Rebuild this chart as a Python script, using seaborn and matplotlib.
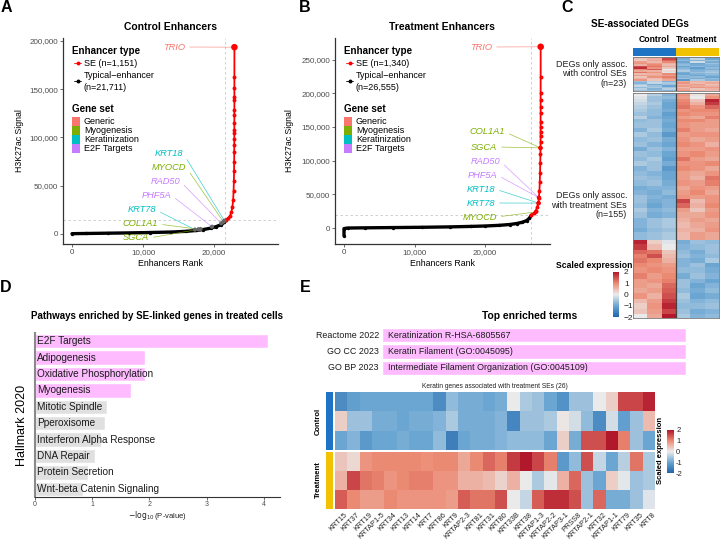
import numpy as np
import pandas as pd
import matplotlib
matplotlib.use("Agg")
import matplotlib.pyplot as plt
import seaborn as sns
from matplotlib.colors import LinearSegmentedColormap, Normalize
from matplotlib.patches import Rectangle
from matplotlib.lines import Line2D
from matplotlib.cm import ScalarMappable
from matplotlib.ticker import FuncFormatter

# ======================= DATA =======================
# Panel A : control enhancers (rank vs H3K27ac signal)
ctrl_typ_rank = [0, 2000, 5000, 8000, 11000, 14000, 16000, 17500, 18500, 19500, 20300, 21000, 21400, 21711]
ctrl_typ_signal = [300, 500, 800, 1100, 1500, 2000, 2700, 3600, 4600, 6000, 7600, 9600, 12000, 14500]
ctrl_se_rank = [21712, 22000, 22250, 22450, 22580, 22680, 22750, 22790, 22815, 22830, 22840, 22845,
                22850, 22853, 22854, 22855, 22856, 22857, 22858, 22859, 22860, 22861, 22862]
ctrl_se_signal = [14600, 16500, 19000, 23000, 28000, 35000, 45000, 55000, 65000, 75000, 85000, 92000,
                  98000, 105000, 108000, 115000, 123000, 128000, 139000, 142000, 151000, 163000, 193500]
ctrl_n_se, ctrl_n_typ = "1,151", "21,711"
ctrl_gene = ["TRIO", "KRT18", "MYOCD", "RAD50", "PHF5A", "KRT78", "COL1A1", "SGCA"]
ctrl_gene_set = ["Generic", "Keratinization", "Myogenesis", "E2F Targets", "E2F Targets",
                 "Keratinization", "Myogenesis", "Myogenesis"]
ctrl_gene_rank = [22862, 21450, 21300, 21000, 19700, 17300, 17800, 18100]
ctrl_gene_signal = [193500, 13800, 12600, 11000, 7500, 4500, 4900, 5100]
ctrl_gene_is_se = [True, False, False, False, False, False, False, False]

# Panel B : treatment enhancers
trt_typ_rank = [0, 1, 500, 3000, 7000, 11000, 15000, 18000, 20000, 22000, 23500, 24500, 25300, 25900, 26300, 26555]
trt_typ_signal = [-11500, -800, 0, 300, 700, 1100, 1700, 2400, 3000, 4000, 5200, 6700, 8600, 11000, 14500, 19000]
trt_se_rank = [26556, 26900, 27200, 27400, 27550, 27650, 27720, 27770, 27810, 27840, 27860, 27870,
               27878, 27882, 27885, 27887, 27889, 27890, 27891, 27892, 27893, 27894, 27895]
trt_se_signal = [19500, 22000, 26000, 31000, 37000, 45000, 55000, 68000, 82000, 97000, 110000, 119000,
                 128000, 136000, 143000, 150000, 157000, 171000, 180000, 190000, 200000, 224000, 269000]
trt_n_se, trt_n_typ = "1,340", "26,555"
trt_gene = ["TRIO", "COL1A1", "SGCA", "RAD50", "PHF5A", "KRT18", "KRT78", "MYOCD"]
trt_gene_set = ["Generic", "Myogenesis", "Myogenesis", "E2F Targets", "E2F Targets",
                "Keratinization", "Keratinization", "Myogenesis"]
trt_gene_rank = [27895, 27870, 27870, 27650, 27650, 27600, 27600, 27250]
trt_gene_signal = [269000, 119000, 119000, 45000, 45000, 37000, 37000, 24000]
trt_gene_is_se = [True] * 8

gene_sets = ["Generic", "Myogenesis", "Keratinization", "E2F Targets"]

# Panel C : SE-associated DEGs (scaled expression; 3 control + 3 treatment)
c_samples = ["Control", "Control", "Control", "Treatment", "Treatment", "Treatment"]
c_block1 = [
    [0.6, 0.5, 1.4, -0.8, -0.6, -0.8], [0.4, 0.6, 1.6, -0.9, -0.3, -1.0], [0.3, 0.7, 1.3, -0.7, -0.8, -0.6],
    [0.8, 0.5, 1.0, -1.0, -0.2, -0.9], [0.9, 0.8, 0.6, -0.8, -1.0, -0.6], [0.6, 1.0, 0.5, -0.7, -0.9, -0.8],
    [1.5, 1.2, 0.7, -1.0, -0.7, -0.9], [1.8, 0.9, 0.4, -0.8, -1.1, -0.7], [1.0, 1.4, 0.0, -0.6, -0.9, -0.9],
    [0.7, 0.6, 0.2, -0.5, -0.8, -0.6], [1.2, 0.9, -0.1, -0.9, -0.6, -0.5], [0.5, 0.6, 1.0, -1.0, -0.8, -0.7],
    [0.8, 0.7, 0.8, -0.7, -1.0, -0.8], [0.4, 0.9, 1.1, -0.8, -0.7, -1.0], [0.6, 0.5, 0.9, -0.6, -0.9, -0.7],
    [0.9, 0.4, 0.7, -1.2, -0.5, -0.8], [-0.6, -0.4, -0.8, 0.7, 0.6, 0.5], [-0.8, -0.3, -0.5, 0.9, 0.5, 0.7],
    [-0.5, -0.9, -0.6, 0.6, 0.8, 0.4], [-0.3, -0.6, -1.0, 0.8, 0.7, 0.6], [-0.7, -0.5, -0.6, 0.5, 0.9, 0.8],
    [-0.4, -0.8, -0.4, 0.7, 0.4, 0.6], [-0.6, -0.7, -0.8, 0.9, 0.6, 0.5],
]
c_block2_counts = [2, 2, 2, 2, 3, 2, 3, 2, 2, 4,
                   3, 3, 4, 3, 3, 4, 3, 3, 4, 3,
                   3, 4, 3, 3, 3, 3, 3, 3, 4, 3,
                   4, 3, 5,
                   3, 4, 3, 3, 3, 3, 4, 4, 3, 3, 4, 4, 3, 4, 3, 3]
c_block2_rows = [
    [0.0, -0.4, -0.8, 0.9, 0.1, 0.7], [-0.1, -0.6, -0.7, 0.8, 0.0, 0.9], [-0.2, -0.6, -0.9, 1.0, 0.4, 1.9],
    [-0.3, -0.5, -1.0, 1.1, 0.6, 1.7], [-0.4, -0.6, -1.0, 1.2, 0.9, 1.3], [-0.5, -0.7, -0.9, 0.9, 1.0, 1.0],
    [-0.6, -0.7, -1.1, 1.0, 0.9, 0.9], [-0.4, -0.8, -1.0, 0.8, 0.7, 1.1], [-0.7, -0.6, -0.9, 1.0, 1.0, 0.8],
    [-0.6, -0.6, -1.0, 0.9, 0.8, 0.8],
    [-0.8, -0.5, -0.9, 1.1, 0.8, 0.7], [-0.5, -0.7, -1.2, 0.8, 0.9, 0.9], [-0.7, -0.6, -0.9, 0.9, 0.7, 0.8],
    [-0.6, -0.8, -1.0, 1.0, 0.9, 0.6], [-0.9, -0.6, -0.8, 0.8, 0.8, 0.9], [-0.6, -0.7, -1.0, 0.9, 1.0, 0.8],
    [-0.7, -0.5, -1.1, 1.2, 0.8, 0.7], [-0.5, -0.6, -0.9, 0.9, 0.9, 1.0], [-0.8, -0.6, -1.2, 1.0, 0.9, 0.7],
    [-0.7, -0.8, -1.0, 0.8, 0.7, 0.9],
    [-0.6, -0.7, -1.0, 0.8, 0.6, 1.2], [-0.7, -0.6, -0.9, 0.9, 0.8, 1.1], [-0.9, -0.8, -0.8, 0.7, 0.9, 0.8],
    [-0.8, -0.9, -0.7, 0.8, 1.0, 0.7], [-0.6, -0.8, -0.9, 0.9, 0.8, 0.9], [-0.6, -0.9, -0.8, 1.6, 0.5, 0.9],
    [-0.7, -1.0, -0.8, 1.3, 0.6, 1.0], [-0.5, -0.8, -0.7, 0.8, 0.4, 0.8], [-0.6, -0.9, -0.8, 0.7, 0.7, 0.9],
    [-0.8, -0.6, -0.5, 0.6, 0.8, 0.7],
    [-0.8, -0.6, -0.5, 0.5, 0.7, 0.8], [-0.9, -0.7, -0.6, 0.6, 0.6, 0.9], [-0.7, -0.6, -0.5, 0.5, 0.8, 0.7],
    [1.9, 0.3, -0.1, -0.9, -0.6, -0.7], [1.7, 0.5, 0.0, -0.8, -0.7, -0.6], [1.3, 1.2, 0.4, -0.7, -0.9, -0.6],
    [1.1, 1.5, 0.5, -0.6, -0.8, -0.7], [1.2, 1.0, 0.6, -0.8, -0.9, -0.5], [1.0, 0.9, 0.8, -0.8, -0.6, -1.0],
    [0.9, 1.0, 0.9, -0.7, -0.7, -0.9], [1.1, 0.8, 1.0, -0.9, -0.6, -0.8], [0.8, 0.9, 1.1, -0.6, -0.8, -1.0],
    [0.8, 0.7, 1.3, -0.6, -1.0, -0.8], [0.7, 0.8, 1.4, -0.7, -0.9, -0.7], [0.9, 0.6, 1.5, -0.5, -1.0, -0.9],
    [0.5, 0.8, 1.7, -0.6, -0.8, -0.7], [0.3, 0.9, 1.9, -0.7, -0.7, -0.6], [0.4, 0.8, 1.6, -0.6, -0.9, -0.8],
    [0.0, 0.7, 2.0, -0.5, -0.8, -0.7],
]

# Panel D : Hallmark 2020 enrichment
d_terms = ["E2F Targets", "Adipogenesis", "Oxidative Phosphorylation", "Myogenesis", "Mitotic Spindle",
           "Pperoxisome", "Interferon Alpha Response", "DNA Repair", "Protein Secretion",
           "Wnt-beta Catenin Signaling"]
d_logp = [4.07, 1.92, 1.92, 1.68, 1.26, 1.23, 1.15, 1.05, 0.93, 0.83]
d_significant = [True, True, True, True, False, False, False, False, False, False]

# Panel E : top enriched terms + keratin genes heatmap
e_db = ["Reactome 2022", "GO CC 2023", "GO BP 2023"]
e_term = ["Keratinization R-HSA-6805567", "Keratin Filament (GO:0045095)",
          "Intermediate Filament Organization (GO:0045109)"]
e_term_bar = [1, 1, 1]
e_genes = ["KRT15", "KRT37", "KRT19", "KRTAP1-5", "KRT34", "KRT13", "KRT14", "KRT7", "KRT86", "KRT9",
           "KRTAP2-3", "KRT81", "KRT31", "KRT80", "KRT33B", "KRT38", "KRTAP1-3", "KRTAP2-2", "KRTAP3-1",
           "PRSS8", "KRTAP2-1", "KRT32", "KRTAP1-1", "KRT79", "KRT35", "KRT8"]
e_control = [
    [-1.4, -1.1, -1.0, -1.0, -1.0, -1.0, -1.0, -1.0, -1.4, -0.7, -0.9, -0.9, -1.0, -0.9, 0.0, -0.5, -0.6,
     -1.0, -1.3, -0.6, -0.6, 0.0, 0.3, 1.6, 1.6, 1.9],
    [0.3, -0.6, -0.6, -0.9, -0.9, -1.0, -0.9, -0.9, -0.8, -0.5, -0.9, -0.9, -0.9, -0.8, -1.5, -0.6, -0.6,
     -0.5, 0.05, -0.2, -0.7, -1.4, -0.2, -1.1, -0.6, 0.5],
    [-1.0, -0.8, -1.2, -1.0, -1.0, -0.9, -1.0, -1.0, -0.7, -1.6, -1.0, -0.9, -0.9, -0.8, -0.7, -0.7, -0.7,
     -1.0, 0.3, -0.9, 1.5, 1.5, 2.0, 1.1, -0.6, -1.0],
]
e_treatment = [
    [0.4, 0.2, 0.9, 1.0, 1.0, 1.0, 1.0, 0.95, 1.0, 1.0, 0.7, 1.0, 1.3, 1.1, 1.7, 2.0, 1.6, 1.1, -1.2, -0.7,
     1.5, -0.3, -1.0, -0.4, 1.2, -0.5],
    [0.6, 1.6, 1.2, 1.1, 0.9, 1.0, 1.1, 1.1, 0.9, 0.9, 0.6, 0.6, 0.5, 0.25, 0.6, 0.0, -0.5, -0.05, 0.6, 1.3,
     -0.6, -1.0, 0.3, -0.05, -0.6, -0.5],
    [1.4, 1.0, 0.8, 0.8, 1.0, 0.9, 0.9, 0.9, 0.9, 0.8, 1.4, 1.2, 1.2, 1.5, 0.0, -0.3, 1.4, 1.8, 1.8, 1.5,
     -0.6, 1.3, -0.9, -0.9, -0.6, -0.1],
]

# ======================= STYLE / LAYOUT =======================
sns.set_theme(style="ticks")
plt.rcParams['font.family'] = ['Liberation Sans', 'DejaVu Sans']
plt.rcParams['axes.unicode_minus'] = False

W, H = 720, 540
fig = plt.figure(figsize=(W / 100, H / 100), dpi=100)
fig.patch.set_facecolor('white')

GENE_COL = {"Generic": "#F8766D", "Myogenesis": "#7CAE00", "Keratinization": "#00BFC4", "E2F Targets": "#C77CFF"}
BLUE_ANN, GOLD_ANN = "#1D74C4", "#F2C200"
PINK, GREY_BAR = "#FFBBFF", "#E0E0E0"
TICK_COL = "#4D4D4D"
cmap = LinearSegmentedColormap.from_list("rb", ["#2166AC", "#6AA6D3", "#EBEBEB", "#EC8B73", "#B2182B"])


def add_ax(x0, y0, x1, y1):
    return fig.add_axes([x0 / W, 1 - y1 / H, (x1 - x0) / W, (y1 - y0) / H])


def ftext(x, y, s, **kw):
    kw.setdefault('va', 'center')
    kw.setdefault('ha', 'left')
    kw.setdefault('color', 'black')
    return fig.text(x / W, 1 - y / H, s, **kw)


def fline(x0, x1, y, **kw):
    fig.add_artist(Line2D([x0 / W, x1 / W], [1 - y / H, 1 - y / H], transform=fig.transFigure, **kw))


def fdot(x, y, **kw):
    fig.add_artist(Line2D([x / W], [1 - y / H], transform=fig.transFigure, marker='o', ls='none', **kw))


def frect(x0, y0, x1, y1, **kw):
    fig.add_artist(Rectangle((x0 / W, 1 - y1 / H), (x1 - x0) / W, (y1 - y0) / H,
                             transform=fig.transFigure, **kw))


comma_fmt = FuncFormatter(lambda v, p: f"{int(round(v)):,}")


def rank_panel(box, title, title_x, ylab_x, typ_r, typ_s, se_r, se_s, genes, gsets, grank, gsig, gse,
               lab_px, xlim, ylim, yticks, thr_y, thr_x, n_se, n_typ, leg_x):
    ax = add_ax(*box)
    ax.axhline(thr_y, color='#C8C8C8', lw=0.6, ls=(0, (3, 3)), zorder=0)
    ax.axvline(thr_x, color='#C8C8C8', lw=0.6, ls=(0, (3, 3)), zorder=0)
    sns.lineplot(x=typ_r, y=typ_s, color='black', lw=2.4, estimator=None, sort=False, ax=ax)
    sns.scatterplot(x=typ_r, y=typ_s, color='black', s=6, linewidth=0, ax=ax)
    sns.lineplot(x=se_r, y=se_s, color='red', lw=1.3, estimator=None, sort=False, ax=ax)
    sns.scatterplot(x=se_r, y=se_s, color='red', s=8, linewidth=0, ax=ax, zorder=4)
    pt_col = ['red' if s else '#666666' for s in gse]
    pt_size = [22 if g == "TRIO" else 9 for g in genes]
    sns.scatterplot(x=grank, y=gsig, hue=list(range(len(genes))), palette=pt_col, size=pt_size,
                    sizes=(9, 22), legend=False, linewidth=0, ax=ax, zorder=5)
    for g, gs, r, s, (px, py) in zip(genes, gsets, grank, gsig, lab_px):
        c = GENE_COL[gs]
        ax.annotate(g, xy=(r, s), xytext=(px, H - py), textcoords='figure pixels', ha='right', va='center',
                    fontsize=6.7, style='italic', color=c, annotation_clip=False,
                    arrowprops=dict(arrowstyle='-', color=c, lw=0.5, alpha=0.75, shrinkA=1, shrinkB=1,
                                    relpos=(1, 0.5)))
    ax.set_xlim(xlim)
    ax.set_ylim(ylim)
    ax.set_xticks([0, 10000, 20000])
    ax.set_yticks(yticks)
    ax.xaxis.set_major_formatter(comma_fmt)
    ax.yaxis.set_major_formatter(comma_fmt)
    ax.tick_params(labelsize=5.8, labelcolor=TICK_COL, length=2, width=0.5, color='#333333', pad=1.5)
    sns.despine(ax=ax)
    for sp in ['left', 'bottom']:
        ax.spines[sp].set_color('#333333')
        ax.spines[sp].set_linewidth(0.9)
    ax.set_xlabel('')
    ax.set_ylabel('')
    x_mid = (box[0] + box[2]) / 2
    ftext(x_mid, 263, 'Enhancers Rank', ha='center', fontsize=6.3)
    ftext(ylab_x, 141, 'H3K27ac Signal', ha='center', rotation=90, fontsize=6.3)
    ftext(title_x, 27, title, ha='center', fontsize=7.5, weight='bold')
    # legend
    ftext(leg_x, 51, 'Enhancer type', fontsize=7.1, weight='bold')
    fline(leg_x + 2, leg_x + 9, 63, color='red', lw=0.6)
    fdot(leg_x + 5.5, 63, color='red', ms=1.8)
    ftext(leg_x + 12, 63, f'SE (n={n_se})', fontsize=6.5)
    fline(leg_x + 2, leg_x + 9, 81, color='black', lw=0.6)
    fdot(leg_x + 5.5, 81, color='black', ms=1.8)
    ftext(leg_x + 12, 76, 'Typical\u2212enhancer', fontsize=6.5)
    ftext(leg_x + 12, 87, f'(n={n_typ})', fontsize=6.5)
    ftext(leg_x, 109, 'Gene set', fontsize=7.1, weight='bold')
    for i, gs in enumerate(gene_sets):
        y0 = 117 + i * 9
        frect(leg_x, y0, leg_x + 8, y0 + 9, color=GENE_COL[gs], lw=0)
        ftext(leg_x + 12, y0 + 4.8, gs, fontsize=6.5)
    return ax


# ---------------- Panel A ----------------
rank_panel((63, 38, 278, 244), 'Control Enhancers', 170, 19,
           ctrl_typ_rank, ctrl_typ_signal, ctrl_se_rank, ctrl_se_signal,
           ctrl_gene, ctrl_gene_set, ctrl_gene_rank, ctrl_gene_signal, ctrl_gene_is_se,
           [(185, 47), (183, 153), (186, 167), (180, 181), (171, 195), (156, 210), (158, 224), (149, 238)],
           (-1270, 29000), (-10400, 203000), [0, 50000, 100000, 150000, 200000], 14500, 21550,
           ctrl_n_se, ctrl_n_typ, 72)

# ---------------- Panel B ----------------
rank_panel((335, 38, 550, 244), 'Treatment Enhancers', 442, 290,
           trt_typ_rank, trt_typ_signal, trt_se_rank, trt_se_signal,
           trt_gene, trt_gene_set, trt_gene_rank, trt_gene_signal, trt_gene_is_se,
           [(492, 47), (505, 132), (497, 147), (500, 161), (497, 175), (495, 189), (495, 203), (497, 217)],
           (-1277, 29220), (-23700, 282000), [0, 50000, 100000, 150000, 200000, 250000], 20000, 26500,
           trt_n_se, trt_n_typ, 344)

# ---------------- Panel C ----------------
blk1 = pd.DataFrame(c_block1, columns=range(6))
blk2 = pd.DataFrame(np.repeat(np.array(c_block2_rows), c_block2_counts, axis=0), columns=range(6))
ftext(640, 24, 'SE-associated DEGs', ha='center', fontsize=7.2, weight='bold')
ftext(654, 40, 'Control', ha='center', fontsize=6.2, weight='bold')
ftext(697, 40, 'Treatment', ha='center', fontsize=6.2, weight='bold')
frect(633, 48, 676, 56, color=BLUE_ANN, lw=0)
frect(676, 48, 719, 56, color=GOLD_ANN, lw=0)
for data, box in [(blk1, (633, 57, 719, 91)), (blk2, (633, 93, 719, 318))]:
    axh = add_ax(*box)
    sns.heatmap(data, ax=axh, cmap=cmap, vmin=-2, vmax=2, cbar=False, xticklabels=False, yticklabels=False)
    axh.axvline(3, color='#444444', lw=0.9)
    for sp in axh.spines.values():
        sp.set_visible(True)
        sp.set_color('#777777')
        sp.set_linewidth(0.6)
    axh.set_xlabel('')
    axh.set_ylabel('')
ftext(627, 74, 'DEGs only assoc.\nwith control SEs\n(n=23)', ha='right', fontsize=6.5, color='#222222',
      linespacing=1.1, multialignment='right')
ftext(627, 205, 'DEGs only assoc.\nwith treatment SEs\n(n=155)', ha='right', fontsize=6.5, color='#222222',
      linespacing=1.1, multialignment='right')
ftext(556, 266, 'Scaled expression', fontsize=6.2, weight='bold')
cax = add_ax(613, 272, 619, 317)
cb = fig.colorbar(ScalarMappable(norm=Normalize(-2, 2), cmap=cmap), cax=cax, ticks=[-2, -1, 0, 1, 2])
cb.ax.set_yticklabels(['\u22122', '\u22121', '0', '1', '2'])
cb.ax.tick_params(labelsize=6, length=2, width=0.5, color='white', pad=1.5, labelcolor='#222222')
cb.outline.set_visible(False)

# ---------------- Panel D ----------------
df_d = pd.DataFrame({'term': d_terms, 'logp': d_logp,
                     'grp': ['sig' if s else 'ns' for s in d_significant]})
axd = add_ax(35, 333, 280, 497)
sns.barplot(data=df_d, x='logp', y='term', hue='grp', palette={'sig': PINK, 'ns': GREY_BAR}, dodge=False,
            width=0.87, orient='h', legend=False, saturation=1, ax=axd)
axd.set_xlim(0, 4.28)
axd.set_yticks([])
axd.set_xticks([0, 1, 2, 3, 4])
axd.set_xlabel('')
axd.set_ylabel('')
for i, t in enumerate(d_terms):
    axd.text(0.035, i, t, va='center', ha='left', fontsize=7.2, color='#1A1A1A')
axd.tick_params(labelsize=5, labelcolor=TICK_COL, length=2, width=0.5, color='#333333', pad=1)
sns.despine(ax=axd)
axd.spines['left'].set_color('#8A8A8A')
axd.spines['left'].set_linewidth(1.5)
axd.spines['bottom'].set_color('#333333')
axd.spines['bottom'].set_linewidth(0.8)
ftext(157, 316, 'Pathways enriched by SE-linked genes in treated cells', ha='center', fontsize=7,
      weight='bold')
ftext(22, 425, 'Hallmark 2020', ha='center', rotation=90, fontsize=9)
ftext(157, 516, r'$-\log_{10}$(P-value)', ha='center', fontsize=5.5, color='#222222')

# ---------------- Panel E ----------------
ftext(530, 316, 'Top enriched terms', ha='center', fontsize=7.4, weight='bold')
axt = add_ax(382, 327, 686, 376)
sns.barplot(x=e_term_bar, y=e_term, color=PINK, width=0.88, orient='h', saturation=1, ax=axt)
axt.set_xlim(0, 1)
axt.axis('off')
for i, t in enumerate(e_term):
    axt.text(0.02, i, t, va='center', ha='left', fontsize=6.4, color='#1A1A1A')
for i, db in enumerate(e_db):
    ftext(379, 336 + 16 * i, db, ha='right', fontsize=6.4, color='#1A1A1A')
ftext(495, 386, 'Keratin genes associated with treatment SEs (26)', ha='center', fontsize=4.8,
      color='#222222')
for data, box in [(e_control, (335, 392, 655, 450)), (e_treatment, (335, 452, 655, 509))]:
    axh = add_ax(*box)
    sns.heatmap(pd.DataFrame(data, columns=e_genes), ax=axh, cmap=cmap, vmin=-2, vmax=2, cbar=False,
                xticklabels=False, yticklabels=False)
    axh.set_xlabel('')
    axh.set_ylabel('')
frect(326, 392, 333, 450, color=BLUE_ANN, lw=0)
frect(326, 452, 333, 509, color=GOLD_ANN, lw=0)
ftext(318, 421, 'Control', ha='center', rotation=90, fontsize=5.5, weight='bold')
ftext(318, 480, 'Treatment', ha='center', rotation=90, fontsize=5.5, weight='bold')
colw = 320 / len(e_genes)
for j, g in enumerate(e_genes):
    ftext(335 + (j + 0.5) * colw + 3, 511, g, ha='right', va='top', rotation=45, rotation_mode='anchor',
          fontsize=5.3, color='#222222')
cax2 = add_ax(667, 430, 674, 473)
cb2 = fig.colorbar(ScalarMappable(norm=Normalize(-2, 2), cmap=cmap), cax=cax2, ticks=[-2, -1, 0, 1, 2])
cb2.ax.set_yticklabels(['-2', '-1', '0', '1', '2'])
cb2.ax.tick_params(labelsize=5.5, length=0, pad=1.5, labelcolor='#222222')
cb2.outline.set_visible(False)
ftext(661, 450, 'Scaled expression', ha='center', rotation=90, fontsize=5.5, weight='bold')

# ---------------- Panel letters ----------------
for letter, (x, y) in {'A': (6, 8), 'B': (305, 8), 'C': (567, 8), 'D': (6, 287), 'E': (305, 287)}.items():
    ftext(x, y, letter, ha='center', fontsize=11.5, weight='bold')

fig.savefig('out.png', dpi=100)
